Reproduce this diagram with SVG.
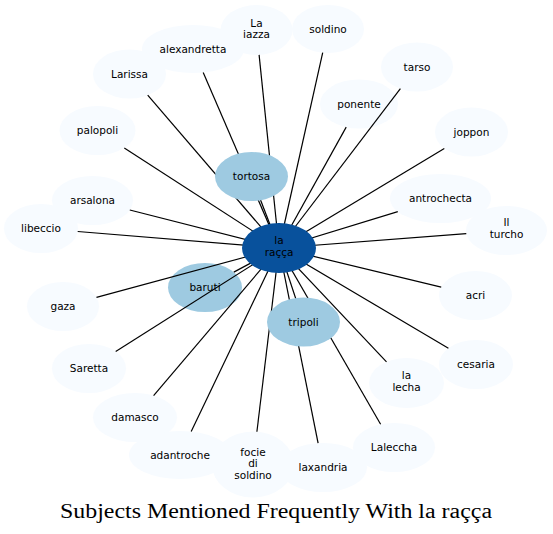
<svg xmlns="http://www.w3.org/2000/svg" width="553" height="534" viewBox="0 0 553 534">
<style>
.n{fill:#f7fbff;stroke:none}
.m{fill:#9ecae1;stroke:none}
.d{fill:#08519c;stroke:none}
text{font-family:"DejaVu Sans",sans-serif;font-size:10.5px;fill:#000;text-anchor:middle}
.e line{stroke:#000;stroke-width:1.2}
.t{font-family:"Liberation Serif",serif;font-size:20px}
</style>
<rect width="553" height="534" fill="#fff"/>
<g id="la_iazza"><ellipse class="n" cx="256.5" cy="30" rx="36" ry="25"/><text x="256.5" y="26.5">La</text><text x="256.5" y="37.5">iazza</text></g>
<g id="soldino"><ellipse class="n" cx="328" cy="29" rx="36" ry="24"/><text x="328" y="32.5">soldino</text></g>
<g id="alexandretta"><ellipse class="n" cx="193" cy="49" rx="51" ry="24"/><text x="193" y="52.5">alexandretta</text></g>
<g id="larissa"><ellipse class="n" cx="129.5" cy="74" rx="36.5" ry="24.5"/><text x="129.5" y="77.5">Larissa</text></g>
<g id="palopoli"><ellipse class="n" cx="97.5" cy="130.5" rx="38" ry="24.5"/><text x="97.5" y="134">palopoli</text></g>
<g id="tarso"><ellipse class="n" cx="417" cy="67" rx="36" ry="24.5"/><text x="417" y="70.5">tarso</text></g>
<g id="ponente"><ellipse class="n" cx="359" cy="104" rx="39" ry="24.5"/><text x="359" y="107.5">ponente</text></g>
<g id="joppon"><ellipse class="n" cx="471.5" cy="132" rx="36.5" ry="24.5"/><text x="471.5" y="135.5">joppon</text></g>
<g id="arsalona"><ellipse class="n" cx="92.5" cy="200.5" rx="40.5" ry="24.5"/><text x="92.5" y="204">arsalona</text></g>
<g id="libeccio"><ellipse class="n" cx="41" cy="228.5" rx="37" ry="24.5"/><text x="41" y="232">libeccio</text></g>
<g id="gaza"><ellipse class="n" cx="63" cy="306.5" rx="36" ry="24.5"/><text x="63" y="310">gaza</text></g>
<g id="antrochecta"><ellipse class="n" cx="440.5" cy="198.5" rx="50.5" ry="24.5"/><text x="440.5" y="202">antrochecta</text></g>
<g id="il_turcho"><ellipse class="n" cx="506.5" cy="230.5" rx="40.5" ry="24.5"/><text x="506.5" y="226">Il</text><text x="506.5" y="238">turcho</text></g>
<g id="acri"><ellipse class="n" cx="475.5" cy="295.5" rx="36.5" ry="24.5"/><text x="475.5" y="299">acri</text></g>
<g id="cesaria"><ellipse class="n" cx="476" cy="364.5" rx="37" ry="24.5"/><text x="476" y="368">cesaria</text></g>
<g id="la_lecha"><ellipse class="n" cx="406.5" cy="383" rx="37.5" ry="25"/><text x="406.5" y="379">la</text><text x="406.5" y="391">lecha</text></g>
<g id="laleccha"><ellipse class="n" cx="394" cy="447.5" rx="41" ry="24.5"/><text x="394" y="451">Laleccha</text></g>
<g id="saretta"><ellipse class="n" cx="89" cy="368.5" rx="37" ry="24.5"/><text x="89" y="372">Saretta</text></g>
<g id="damasco"><ellipse class="n" cx="135" cy="417.5" rx="42" ry="24.5"/><text x="135" y="421">damasco</text></g>
<g id="adantroche"><ellipse class="n" cx="180" cy="455" rx="51" ry="24"/><text x="180" y="458.5">adantroche</text></g>
<g id="laxandria"><ellipse class="n" cx="323" cy="467.5" rx="44" ry="24.5"/><text x="323" y="471">laxandria</text></g>
<g id="focie_di_soldino"><ellipse class="n" cx="253" cy="464.5" rx="41" ry="33"/><text x="253" y="455.5">focie</text><text x="253" y="467">di</text><text x="253" y="478.5">soldino</text></g>
<g id="baruti"><ellipse class="m" cx="205" cy="287.5" rx="37" ry="24.5"/><text x="205" y="291">baruti</text></g>
<g id="edges" class="e">
<line x1="279" y1="248" x2="251.5" y2="176.5"/>
<line x1="279" y1="248" x2="233.8" y2="272.1"/>
<line x1="279" y1="248" x2="303.5" y2="322"/>
<line x1="279" y1="248" x2="259.1" y2="54.9"/>
<line x1="279" y1="248" x2="322.7" y2="52.7"/>
<line x1="279" y1="248" x2="203.2" y2="72.5"/>
<line x1="279" y1="248" x2="147.7" y2="95.2"/>
<line x1="279" y1="248" x2="124.3" y2="147.9"/>
<line x1="279" y1="248" x2="400.4" y2="88.7"/>
<line x1="279" y1="248" x2="346.2" y2="127.1"/>
<line x1="279" y1="248" x2="444.3" y2="148.4"/>
<line x1="279" y1="248" x2="129.8" y2="210"/>
<line x1="279" y1="248" x2="77.7" y2="231.5"/>
<line x1="279" y1="248" x2="96.5" y2="297.4"/>
<line x1="279" y1="248" x2="397.8" y2="211.6"/>
<line x1="279" y1="248" x2="466.3" y2="233.6"/>
<line x1="279" y1="248" x2="441.2" y2="287.2"/>
<line x1="279" y1="248" x2="448.4" y2="348.2"/>
<line x1="279" y1="248" x2="386.5" y2="361.8"/>
<line x1="279" y1="248" x2="380.6" y2="424.3"/>
<line x1="279" y1="248" x2="318.1" y2="443.2"/>
<line x1="279" y1="248" x2="115.7" y2="351.6"/>
<line x1="279" y1="248" x2="153.6" y2="395.6"/>
<line x1="279" y1="248" x2="191.2" y2="431.6"/>
<line x1="279" y1="248" x2="256.9" y2="431.7"/>
</g>
<g id="tortosa"><ellipse class="m" cx="251.5" cy="176.5" rx="36.5" ry="24.5"/><text x="251.5" y="180">tortosa</text></g>
<g id="tripoli"><ellipse class="m" cx="303.5" cy="322" rx="36.5" ry="24.5"/><text x="303.5" y="325.5">tripoli</text></g>
<g id="la_racca"><ellipse class="d" cx="279" cy="248" rx="37" ry="25"/><text x="279" y="244">la</text><text x="279" y="255.5">raçça</text></g>
<text class="t" x="276" y="518" textLength="432" lengthAdjust="spacingAndGlyphs">Subjects Mentioned Frequently With la raçça</text>
</svg>
